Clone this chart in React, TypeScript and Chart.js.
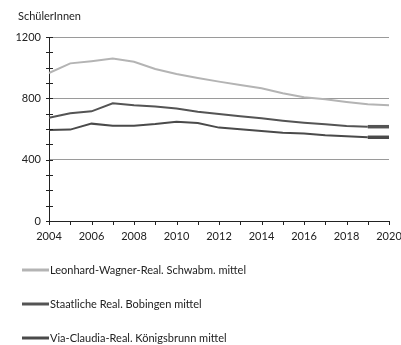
import React, { useEffect, useRef } from "react";
import { Chart, registerables } from "chart.js";

Chart.register(...registerables);

const years = ["2004","2005","2006","2007","2008","2009","2010","2011","2012","2013","2014","2015","2016","2017","2018","2019","2020"];
const leonhard = [965, 1028, 1042, 1059, 1039, 991, 959, 933, 909, 887, 866, 833, 807, 794, 776, 761, 755];
const bobingen = [674, 702, 715, 768, 755, 746, 733, 713, 698, 683, 670, 654, 641, 631, 620, 615, 615];
const koenigsbrunn = [594, 596, 635, 622, 622, 633, 648, 639, 609, 598, 587, 576, 570, 559, 552, 546, 546];
const seriesNames = [
  "Leonhard-Wagner-Real. Schwabm. mittel",
  "Staatliche Real. Bobingen mittel",
  "Via-Claudia-Real. Königsbrunn mittel",
];
const yLabelValues = [0, 400, 800, 1200];
const yTitle = "SchülerInnen";

const FONT = "Lato";

const decorPlugin = {
  id: "decor",
  afterDraw(chart: any) {
    const ctx = chart.ctx;
    const ys = chart.scales.y;
    const xs = chart.scales.x;
    const area = chart.chartArea;
    ctx.save();
    ctx.strokeStyle = "#222";
    ctx.lineWidth = 1;
    for (let v = 0; v <= 1200; v += 100) {
      const py = Math.round(ys.getPixelForValue(v)) + 0.5;
      ctx.beginPath();
      ctx.moveTo(area.left - 3, py);
      ctx.lineTo(area.left + 4, py);
      ctx.stroke();
    }
    for (let i = 0; i < years.length; i++) {
      const px = Math.round(xs.getPixelForValue(i)) + 0.5;
      ctx.beginPath();
      ctx.moveTo(px, area.bottom);
      ctx.lineTo(px, area.bottom + 4);
      ctx.stroke();
    }
    ctx.fillStyle = "#222";
    ctx.font = `11px ${FONT}`;
    ctx.textAlign = "left";
    ctx.textBaseline = "middle";
    ctx.fillText(yTitle, 18, 16);
    chart.data.datasets.forEach((ds: any, i: number) => {
      const ly = 270 + 34 * i;
      ctx.strokeStyle = ds.borderColor;
      ctx.lineWidth = 3;
      ctx.beginPath();
      ctx.moveTo(22, ly);
      ctx.lineTo(49, ly);
      ctx.stroke();
      ctx.fillStyle = "#222";
      ctx.fillText(ds.label, 50, ly);
    });
    ctx.restore();
  },
};

export default function App() {
  const ref = useRef<HTMLCanvasElement>(null);
  useEffect(() => {
    document.body.style.margin = "0";
    const colors = ["#b4b4b4", "#545454", "#4a4a4a"];
    const values = [leonhard, bobingen, koenigsbrunn];
    const chart = new Chart(ref.current as HTMLCanvasElement, {
      type: "line",
      data: {
        labels: years,
        datasets: values.map((d, i) => ({
          label: seriesNames[i],
          data: d,
          borderColor: colors[i],
          backgroundColor: colors[i],
          borderWidth: 2,
          pointRadius: 0,
          tension: 0,
          segment: i > 0 ? { borderWidth: (c: any) => (c.p0DataIndex === years.length - 2 ? 3.5 : 2) } : undefined,
        })),
      },
      options: {
        animation: false,
        responsive: false,
        layout: { padding: { left: 0, top: 37, right: 12, bottom: 0 } },
        plugins: { legend: { display: false }, tooltip: { enabled: false } },
        scales: {
          x: {
            type: "category",
            offset: false,
            grid: { display: false, drawTicks: false },
            border: { display: true, color: "#222", width: 1 },
            ticks: {
              autoSkip: false,
              maxRotation: 0,
              padding: 9,
              color: "#222",
              font: { family: FONT, size: 11 },
              callback: (v: any, i: number) => (i % 2 === 0 ? years[i] : ""),
            },
            afterFit: (s: any) => { s.height = 124; s.paddingLeft = 0; s.paddingRight = 0; },
          },
          y: {
            min: 0,
            max: 1200,
            grid: {
              drawTicks: false,
              color: (c: any) => (c.tick && c.tick.value !== 0 && yLabelValues.includes(c.tick.value) ? "#9a9a9a" : "rgba(0,0,0,0)"),
              lineWidth: 1,
            },
            border: { display: true, color: "#222", width: 1 },
            ticks: {
              stepSize: 400,
              padding: 8,
              color: "#222",
              font: { family: FONT, size: 11 },
              callback: (v: any) => (yLabelValues.includes(Number(v)) ? String(v) : ""),
            },
            afterFit: (s: any) => { s.width = 49; s.paddingTop = 0; s.paddingBottom = 0; },
          },
        },
      },
      plugins: [decorPlugin],
    });
    return () => chart.destroy();
  }, []);
  return (
    <div style={{ width: 401, height: 345, background: "#fff" }}>
      <canvas ref={ref} width={401} height={345} />
    </div>
  );
}
